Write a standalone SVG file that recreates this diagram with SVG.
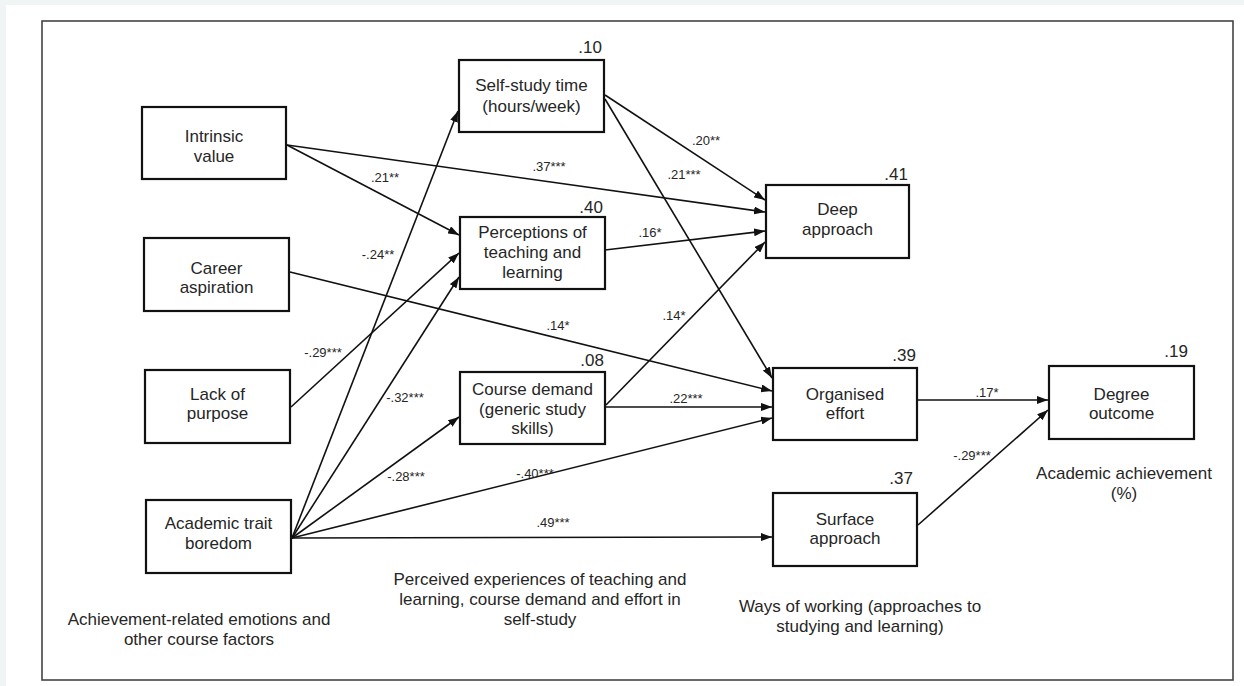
<svg xmlns="http://www.w3.org/2000/svg" width="1244" height="686" viewBox="0 0 1244 686">
<style>
  text { font-family: "Liberation Sans", Arial, sans-serif; fill: #262626; }
  .box { fill: #ffffff; stroke: #111111; stroke-width: 2.2; }
  .bt { font-size: 17px; text-anchor: middle; }
  .r2 { font-size: 17px; text-anchor: end; }
  .pl { font-size: 13px; text-anchor: middle; }
  .cap { font-size: 17px; text-anchor: middle; }
  .edge { fill: none; stroke: #111111; stroke-width: 1.6; marker-end: url(#arr); }
</style>
<defs>
  <marker id="arr" markerUnits="userSpaceOnUse" markerWidth="11" markerHeight="8" refX="11" refY="4" orient="auto">
    <path d="M0,0 L11,4 L0,8 z" fill="#111111"/>
  </marker>
</defs>
<rect x="0" y="0" width="1244" height="686" fill="#f1f4f5"/>
<rect x="6" y="5" width="1238" height="681" fill="#ffffff"/>
<rect x="42" y="21" width="1191" height="659" fill="none" stroke="#444444" stroke-width="1.6"/>

<g id="connectors">
  <path class="edge" d="M287,145 L765,212"/>
  <path class="edge" d="M287,145 L459,235"/>
  <path class="edge" d="M605,95 L765,200"/>
  <path class="edge" d="M605,99 L772,378"/>
  <path class="edge" d="M605,250 L765,231"/>
  <path class="edge" d="M290,272 L772,391"/>
  <path class="edge" d="M291,407 L459,253"/>
  <path class="edge" d="M606,405 L765,242"/>
  <path class="edge" d="M606,407 L772,407"/>
  <path class="edge" d="M292,538 L458,111"/>
  <path class="edge" d="M292,538 L459,277"/>
  <path class="edge" d="M292,538 L459,417"/>
  <path class="edge" d="M292,538 L772,418"/>
  <path class="edge" d="M292,538 L772,537"/>
  <path class="edge" d="M918,400 L1048,400"/>
  <path class="edge" d="M918,525 L1048,410"/>
  <text class="pl" x="385" y="182">.21**</text>
  <text class="pl" x="549" y="171">.37***</text>
  <text class="pl" x="706" y="145">.20**</text>
  <text class="pl" x="684" y="179">.21***</text>
  <text class="pl" x="650" y="237">.16*</text>
  <text class="pl" x="378" y="259">-.24**</text>
  <text class="pl" x="323" y="357">-.29***</text>
  <text class="pl" x="558" y="330">.14*</text>
  <text class="pl" x="674" y="320">.14*</text>
  <text class="pl" x="405" y="402">-.32***</text>
  <text class="pl" x="686" y="403">.22***</text>
  <text class="pl" x="406" y="481">-.28***</text>
  <text class="pl" x="535" y="478">-.40***</text>
  <text class="pl" x="553" y="527">.49***</text>
  <text class="pl" x="987" y="397">.17*</text>
  <text class="pl" x="972" y="460">-.29***</text>
</g>

<g id="intrinsic-value">
  <rect class="box" x="142" y="107" width="144" height="72"/>
  <text class="bt" x="214" y="142">Intrinsic</text>
  <text class="bt" x="214" y="162">value</text>
</g>
<g id="career-aspiration">
  <rect class="box" x="144" y="238" width="145" height="73"/>
  <text class="bt" x="216.5" y="274">Career</text>
  <text class="bt" x="216.5" y="293">aspiration</text>
</g>
<g id="lack-of-purpose">
  <rect class="box" x="145" y="370" width="145" height="73"/>
  <text class="bt" x="217.5" y="400">Lack of</text>
  <text class="bt" x="217.5" y="419">purpose</text>
</g>
<g id="academic-trait-boredom">
  <rect class="box" x="146" y="500" width="145" height="73"/>
  <text class="bt" x="218.5" y="529">Academic trait</text>
  <text class="bt" x="218.5" y="549">boredom</text>
</g>
<g id="self-study-time">
  <rect class="box" x="459" y="60" width="145" height="72"/>
  <text class="bt" x="531.5" y="91">Self-study time</text>
  <text class="bt" x="531.5" y="112">(hours/week)</text>
  <text class="r2" x="602" y="53">.10</text>
</g>
<g id="perceptions">
  <rect class="box" x="460" y="217" width="145" height="72"/>
  <text class="bt" x="532.5" y="238">Perceptions of</text>
  <text class="bt" x="532.5" y="258">teaching and</text>
  <text class="bt" x="532.5" y="278">learning</text>
  <text class="r2" x="603" y="213">.40</text>
</g>
<g id="course-demand">
  <rect class="box" x="460" y="372" width="145" height="72"/>
  <text class="bt" x="532.5" y="395">Course demand</text>
  <text class="bt" x="532.5" y="415">(generic study</text>
  <text class="bt" x="532.5" y="434">skills)</text>
  <text class="r2" x="604" y="366">.08</text>
</g>
<g id="deep-approach">
  <rect class="box" x="766" y="185" width="143" height="73"/>
  <text class="bt" x="837.5" y="215">Deep</text>
  <text class="bt" x="837.5" y="235">approach</text>
  <text class="r2" x="908" y="180">.41</text>
</g>
<g id="organised-effort">
  <rect class="box" x="773" y="368" width="144" height="72"/>
  <text class="bt" x="845" y="400">Organised</text>
  <text class="bt" x="845" y="419">effort</text>
  <text class="r2" x="916" y="361">.39</text>
</g>
<g id="surface-approach">
  <rect class="box" x="773" y="493" width="144" height="73"/>
  <text class="bt" x="845" y="525">Surface</text>
  <text class="bt" x="845" y="544">approach</text>
  <text class="r2" x="913" y="484">.37</text>
</g>
<g id="degree-outcome">
  <rect class="box" x="1049" y="366" width="145" height="73"/>
  <text class="bt" x="1121.5" y="400">Degree</text>
  <text class="bt" x="1121.5" y="419">outcome</text>
  <text class="r2" x="1188" y="357">.19</text>
</g>

<g id="captions">
  <text class="cap" x="199" y="625">Achievement-related emotions and</text>
  <text class="cap" x="199" y="645">other course factors</text>
  <text class="cap" x="540" y="585">Perceived experiences of teaching and</text>
  <text class="cap" x="540" y="605">learning, course demand and effort in</text>
  <text class="cap" x="540" y="625">self-study</text>
  <text class="cap" x="860" y="612">Ways of working (approaches to</text>
  <text class="cap" x="860" y="632">studying and learning)</text>
  <text class="cap" x="1124" y="479">Academic achievement</text>
  <text class="cap" x="1124" y="499">(%)</text>
</g>
</svg>
